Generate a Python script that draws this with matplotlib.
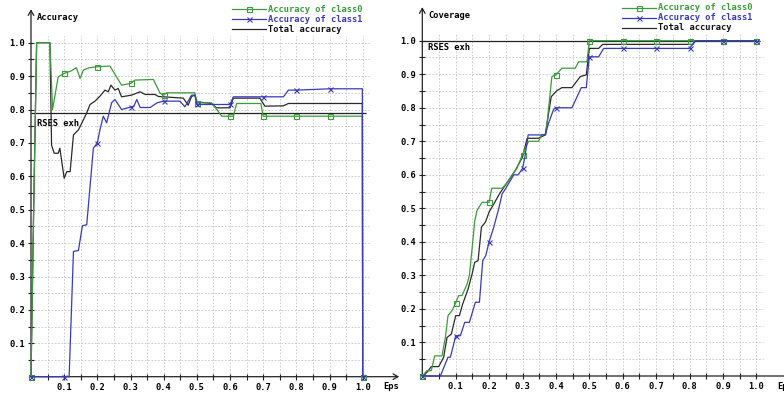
import numpy as np
import matplotlib
matplotlib.use('Agg')
import matplotlib.pyplot as plt
from matplotlib.lines import Line2D

# ---- left panel: accuracy vs eps ----
acc0_x = [0, 0.008, 0.017, 0.057, 0.065, 0.082, 0.1, 0.12, 0.137, 0.148, 0.158, 0.175, 0.2,
          0.238, 0.273, 0.3, 0.313, 0.369, 0.389, 0.4, 0.409, 0.494, 0.5, 0.544, 0.564, 0.575,
          0.6, 0.61, 0.62, 0.693, 0.7, 0.8, 0.9, 0.999, 1.0]
acc0_y = [0, 0.5, 1.0, 1.0, 0.80, 0.898, 0.908, 0.915, 0.925, 0.893, 0.918, 0.925, 0.928,
          0.93, 0.873, 0.878, 0.888, 0.89, 0.849, 0.843, 0.85, 0.85, 0.82, 0.82, 0.795, 0.78,
          0.78, 0.78, 0.818, 0.818, 0.78, 0.78, 0.78, 0.78, 0.0]

acc1_x = [0, 0.1, 0.115, 0.128, 0.143, 0.155, 0.168, 0.188, 0.2, 0.208, 0.218, 0.228, 0.243,
          0.253, 0.273, 0.3, 0.31, 0.319, 0.329, 0.359, 0.38, 0.4, 0.449, 0.464, 0.484, 0.494,
          0.5, 0.6, 0.61, 0.62, 0.7, 0.761, 0.776, 0.8, 0.9, 0.999, 1.0]
acc1_y = [0, 0, 0, 0.375, 0.378, 0.452, 0.455, 0.684, 0.70, 0.74, 0.78, 0.76, 0.82,
          0.83, 0.80, 0.807, 0.81, 0.83, 0.806, 0.806, 0.82, 0.825, 0.825, 0.808, 0.843, 0.843,
          0.815, 0.815, 0.838, 0.838, 0.838, 0.838, 0.858, 0.858, 0.862, 0.862, 0.0]

acct_x = [0, 0.008, 0.017, 0.057, 0.062, 0.07, 0.082, 0.087, 0.1, 0.108, 0.118, 0.128, 0.143,
          0.158, 0.168, 0.178, 0.193, 0.208, 0.223, 0.233, 0.241, 0.253, 0.263, 0.273, 0.303,
          0.329, 0.344, 0.374, 0.384, 0.459, 0.474, 0.484, 0.494, 0.5, 0.544, 0.559, 0.6,
          0.61, 0.69, 0.705, 0.761, 0.776, 0.999, 1.0]
acct_y = [0, 0.5, 1.0, 1.0, 0.693, 0.669, 0.669, 0.684, 0.594, 0.614, 0.614, 0.724, 0.739,
          0.769, 0.79, 0.815, 0.825, 0.84, 0.858, 0.853, 0.873, 0.858, 0.863, 0.838, 0.843,
          0.853, 0.845, 0.845, 0.839, 0.834, 0.813, 0.839, 0.843, 0.823, 0.818, 0.805, 0.805,
          0.834, 0.834, 0.81, 0.811, 0.818, 0.818, 0.0]

rses_acc = 0.791

# ---- right panel: coverage vs eps ----
cov0_x = [0, 0.014, 0.027, 0.037, 0.059, 0.069, 0.077, 0.089, 0.1, 0.109, 0.119, 0.134, 0.141,
          0.149, 0.157, 0.164, 0.179, 0.2, 0.208, 0.239, 0.254, 0.283, 0.3, 0.318, 0.348, 0.358,
          0.37, 0.388, 0.4, 0.418, 0.458, 0.468, 0.493, 0.5, 0.6, 0.7, 0.8, 0.9, 1.0]
cov0_y = [0, 0.016, 0.016, 0.06, 0.06, 0.115, 0.18, 0.195, 0.218, 0.24, 0.24, 0.274, 0.3,
          0.379, 0.463, 0.494, 0.518, 0.518, 0.56, 0.56, 0.576, 0.619, 0.66, 0.70, 0.70, 0.72,
          0.72, 0.893, 0.898, 0.918, 0.918, 0.937, 0.937, 1.0, 1.0, 1.0, 1.0, 1.0, 1.0]

cov1_x = [0, 0.054, 0.077, 0.084, 0.094, 0.1, 0.114, 0.127, 0.141, 0.159, 0.171, 0.181, 0.19,
          0.2, 0.214, 0.229, 0.239, 0.247, 0.274, 0.287, 0.3, 0.307, 0.317, 0.368, 0.378, 0.393,
          0.4, 0.448, 0.476, 0.491, 0.5, 0.528, 0.543, 0.6, 0.7, 0.8, 0.818, 0.9, 1.0]
cov1_y = [0, 0, 0.056, 0.056, 0.095, 0.12, 0.12, 0.16, 0.16, 0.22, 0.22, 0.344, 0.359,
          0.40, 0.444, 0.50, 0.543, 0.555, 0.60, 0.60, 0.619, 0.652, 0.719, 0.719, 0.754, 0.795,
          0.80, 0.80, 0.86, 0.86, 0.952, 0.952, 0.977, 0.977, 0.977, 0.977, 1.0, 1.0, 1.0]

covt_x = [0, 0.014, 0.027, 0.049, 0.064, 0.074, 0.087, 0.1, 0.111, 0.121, 0.137, 0.149, 0.157,
          0.167, 0.177, 0.189, 0.2, 0.214, 0.231, 0.249, 0.279, 0.3, 0.314, 0.348, 0.368, 0.386,
          0.403, 0.418, 0.448, 0.473, 0.491, 0.5, 0.528, 0.54, 0.81, 0.818, 1.0]
covt_y = [0, 0.011, 0.028, 0.028, 0.056, 0.115, 0.125, 0.18, 0.18, 0.215, 0.259, 0.304, 0.339,
          0.344, 0.444, 0.459, 0.489, 0.513, 0.543, 0.57, 0.614, 0.653, 0.709, 0.709, 0.719, 0.833,
          0.851, 0.86, 0.86, 0.893, 0.898, 0.977, 0.977, 0.989, 0.989, 1.0, 1.0]

rses_cov = 1.0

labels = ['Accuracy of class0', 'Accuracy of class1', 'Total accuracy']
ticks = np.round(np.arange(0.05, 1.001, 0.05), 2)

GREEN = '#3d9b3d'
BLUE = '#3a3ab8'
DARK = '#2a2a2a'
FONT = dict(family='DejaVu Sans Mono', fontweight='bold', fontsize=6.3)

W, H = 784, 394
fig = plt.figure(figsize=(W / 100, H / 100), dpi=100)


def marks(xs):
    return [i for i, v in enumerate(xs) if abs(v * 10 - round(v * 10)) < 1e-9]


def setup(ax, ylabel, rses, rses_lbl_y):
    ax.set_xlim(0, 1.11)
    ax.set_ylim(0, 1.1)
    for s in ax.spines.values():
        s.set_visible(False)
    ax.vlines(ticks, 0, 1.02, colors='#c4c4c4', linestyles=(0, (2, 2)), lw=0.6, zorder=0)
    ax.hlines(ticks, 0, 1.02, colors='#c4c4c4', linestyles=(0, (2, 2)), lw=0.6, zorder=0)
    lab = ['%.1f' % t if round(t * 10) == t * 10 else '' for t in ticks]
    ax.set_xticks(ticks)
    ax.set_xticklabels(lab, **FONT)
    ax.set_yticks(ticks)
    ax.set_yticklabels(lab, **FONT)
    ax.tick_params(direction='inout', length=5, width=0.8, pad=2, color='#222222')
    arrow = dict(arrowstyle='->,head_length=0.35,head_width=0.2', lw=0.9, color='#222222',
                 shrinkA=0, shrinkB=0)
    ax.annotate('', xy=(0, 1.1), xytext=(0, 0), arrowprops=arrow, annotation_clip=False)
    ax.annotate('', xy=(1.11, 0), xytext=(0, 0), arrowprops=arrow, annotation_clip=False)
    ax.hlines(rses, 0, 1.01, colors='#222222', lw=0.9, zorder=3)
    ax.text(0.018, rses_lbl_y, 'RSES exh', va='center', ha='left', **FONT)
    ax.text(0.018, 1.075, ylabel, va='center', ha='left', **FONT)
    ax.text(1.063, -0.03, 'Eps', va='center', ha='left', clip_on=False, **FONT)


def legend(x0, y0):
    styles = [(GREEN, 's', 3.6, GREEN), (BLUE, 'x', 3.6, BLUE), (DARK, None, 0, '#111111')]
    for k, (lab, (c, m, ms, tc)) in enumerate(zip(labels, styles)):
        y = 1 - (y0 + 10 * k) / H
        fig.add_artist(Line2D([x0 / W, (x0 + 34) / W], [y, y], color=c, lw=0.9))
        if m:
            fig.add_artist(Line2D([(x0 + 17) / W], [y], color=c, marker=m, ms=ms,
                                  mfc='none', mew=0.8))
        fig.text((x0 + 36) / W, y, lab, color=tc, va='center', ha='left', **FONT)


def curves(ax, x0, y0, x1, y1, xt, yt):
    ax.plot(xt, yt, color=DARK, lw=0.9, zorder=4)
    ax.plot(x0, y0, color=GREEN, lw=0.9, marker='s', ms=3.6, mfc='none', mew=0.8,
            markevery=marks(x0), zorder=5, clip_on=False)
    ax.plot(x1, y1, color=BLUE, lw=0.9, marker='x', ms=3.6, mew=0.8,
            markevery=marks(x1), zorder=6, clip_on=False)


ax1 = fig.add_axes([31 / W, 17.3 / H, 1.11 * 331.7 / W, 1.1 * 334 / H])
setup(ax1, 'Accuracy', rses_acc, 0.758)
curves(ax1, acc0_x, acc0_y, acc1_x, acc1_y, acct_x, acct_y)

ax2 = fig.add_axes([422.3 / W, 18 / H, 1.11 * 334 / W, 1.1 * 335.3 / H])
setup(ax2, 'Coverage', rses_cov, 0.98)
curves(ax2, cov0_x, cov0_y, cov1_x, cov1_y, covt_x, covt_y)

legend(232, 9)
legend(622, 8)

fig.savefig('out.png', dpi=100, facecolor='white')
